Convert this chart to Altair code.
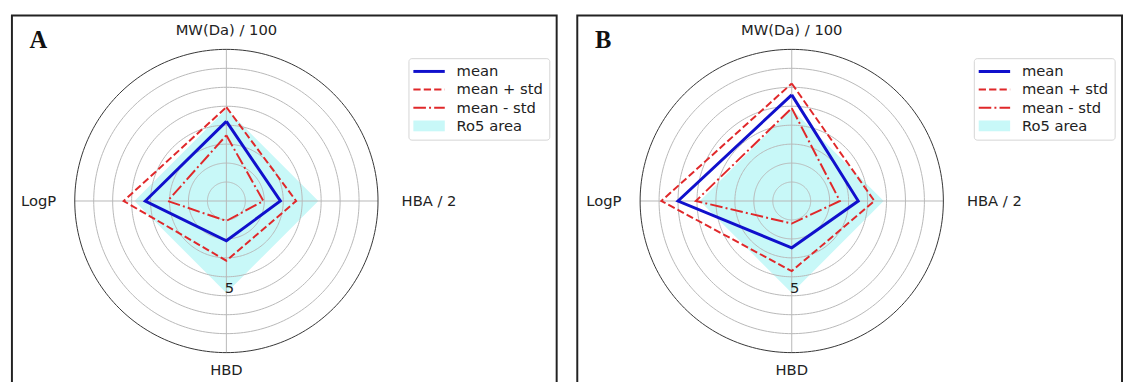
import numpy as np
import pandas as pd
import altair as alt

# ---------------- data ----------------
AXES = ["MW(Da) / 100", "HBA / 2", "HBD", "LogP"]     # clockwise from top
PANELS = ["A", "B"]
MEAN_A = [4.20, 2.85, 2.10, 4.28]
PLUS_A = [4.95, 3.68, 3.15, 5.42]
MINUS_A = [3.47, 1.95, 1.05, 3.10]
MEAN_B = [5.60, 3.51, 2.47, 6.00]
PLUS_B = [6.20, 4.36, 3.70, 6.88]
MINUS_B = [4.90, 2.54, 1.19, 5.06]
RO5 = [4.85, 4.85, 4.85, 4.85]
RINGS = [1, 2, 3, 4, 5, 6, 7]
R_MAX = 8
R_LABEL = 5
LEGEND = ["mean", "mean + std", "mean - std", "Ro5 area"]

# ---------------- layout / style ----------------
PX = 19.31          # pixels per radial unit
W, H = 555, 380     # each panel's view
CX, CY = 218.5, 189  # centre of the radar inside the view
XS = alt.Scale(domain=[-CX / PX, (W - CX) / PX], nice=False, zero=False)
YS = alt.Scale(domain=[-(H - CY) / PX, CY / PX], nice=False, zero=False)
FONT = "DejaVu Sans"
BLUE = "#1010cc"
RED = "#e0282a"
CYAN = "#c8f8f8"
GRID = "#b8b8b8"
TXT = "#222222"

ANG = [i * 2 * np.pi / len(AXES) for i in range(len(AXES))]


def X(f):
    return alt.X(f, type="quantitative", scale=XS, axis=None)


def Y(f):
    return alt.Y(f, type="quantitative", scale=YS, axis=None)


def polygon(vals):
    rows = []
    for i in range(len(vals) + 1):
        k = i % len(vals)
        rows.append({"x": vals[k] * np.sin(ANG[k]), "y": vals[k] * np.cos(ANG[k]), "o": i})
    return pd.DataFrame(rows)


def panel(letter, mean, plus, minus):
    layers = []
    # Ro5 area (star-shaped quadrilateral drawn as an area between two boundaries)
    top, right, bottom, left = RO5
    ro5 = pd.DataFrame({"x": [-left, 0, right], "y": [0, top, 0], "y2": [0, -bottom, 0]})
    layers.append(alt.Chart(ro5).mark_area(color=CYAN, opacity=1, orient="vertical",
                                           interpolate="linear")
                  .encode(x=X("x"), y=Y("y"), y2="y2"))
    # rings
    th = np.linspace(0, 2 * np.pi, 241)
    ring_rows = []
    for r in RINGS:
        for j, t in enumerate(th):
            ring_rows.append({"r": r, "x": r * np.sin(t), "y": r * np.cos(t), "o": j})
    layers.append(alt.Chart(pd.DataFrame(ring_rows)).mark_line(color=GRID, strokeWidth=1)
                  .encode(x=X("x"), y=Y("y"), detail="r:N", order="o:Q"))
    # spokes
    sp = pd.DataFrame({"x": [0.0] * len(AXES), "y": [0.0] * len(AXES),
                       "x2": [R_MAX * np.sin(a) for a in ANG],
                       "y2": [R_MAX * np.cos(a) for a in ANG]})
    layers.append(alt.Chart(sp).mark_rule(color=GRID, strokeWidth=1)
                  .encode(x=X("x"), y=Y("y"), x2="x2", y2="y2"))
    # outer circle
    outer = pd.DataFrame({"x": R_MAX * np.sin(th), "y": R_MAX * np.cos(th), "o": range(len(th))})
    layers.append(alt.Chart(outer).mark_line(color="#333333", strokeWidth=1)
                  .encode(x=X("x"), y=Y("y"), order="o:Q"))
    # series
    layers.append(alt.Chart(polygon(minus)).mark_line(color=RED, strokeWidth=2,
                                                      strokeDash=[12.8, 3.2, 2, 3.2],
                                                      strokeJoin="miter")
                  .encode(x=X("x"), y=Y("y"), order="o:Q"))
    layers.append(alt.Chart(polygon(plus)).mark_line(color=RED, strokeWidth=2,
                                                     strokeDash=[7.4, 3.2], strokeJoin="miter")
                  .encode(x=X("x"), y=Y("y"), order="o:Q"))
    layers.append(alt.Chart(polygon(mean)).mark_line(color=BLUE, strokeWidth=3, strokeJoin="miter")
                  .encode(x=X("x"), y=Y("y"), order="o:Q"))
    # radial tick label
    rl = pd.DataFrame({"t": [str(R_LABEL)], "x": [0.0], "y": [-float(R_LABEL)]})
    layers.append(alt.Chart(rl).mark_text(font=FONT, fontSize=15, color=TXT, dx=3, dy=-8,
                                          baseline="middle")
                  .encode(x=X("x"), y=Y("y"), text="t"))
    # axis labels
    specs = [dict(align="center", dy=-19.5), dict(align="left", dx=24),
             dict(align="center", dy=17.5), dict(align="right", dx=-19)]
    for lab, a, sp_ in zip(AXES, ANG, specs):
        d = pd.DataFrame({"t": [lab], "x": [R_MAX * np.sin(a)], "y": [R_MAX * np.cos(a)]})
        layers.append(alt.Chart(d).mark_text(font=FONT, fontSize=15, color=TXT,
                                             baseline="middle", **sp_)
                      .encode(x=X("x"), y=Y("y"), text="t"))
    # panel letter
    layers.append(alt.Chart(pd.DataFrame({"t": [letter]})).mark_text(
        font="Liberation Serif", fontWeight="bold", fontSize=25, color="#111111",
        align="left", baseline="alphabetic")
        .encode(x=alt.value(18), y=alt.value(33), text="t"))
    # legend
    one = pd.DataFrame({"k": [0]})
    layers.append(alt.Chart(one).mark_rect(fill="white", stroke="#d4d4d4", strokeWidth=1,
                                           cornerRadius=3)
                  .encode(x=alt.value(404.5), x2=alt.value(548), y=alt.value(44),
                          y2=alt.value(127)))
    row_y = [57, 75.5, 94, 112.5]
    styles = [dict(color=BLUE, strokeWidth=3),
              dict(color=RED, strokeWidth=2, strokeDash=[7.4, 3.2]),
              dict(color=RED, strokeWidth=2, strokeDash=[12.8, 3.2, 2, 3.2])]
    for yy, st in zip(row_y[:3], styles):
        layers.append(alt.Chart(one).mark_rule(**st)
                      .encode(x=alt.value(409), x2=alt.value(441), y=alt.value(yy)))
    layers.append(alt.Chart(one).mark_rect(fill=CYAN)
                  .encode(x=alt.value(409), x2=alt.value(441), y=alt.value(row_y[3] - 5.5),
                          y2=alt.value(row_y[3] + 5.5)))
    for yy, lab in zip(row_y, LEGEND):
        layers.append(alt.Chart(pd.DataFrame({"t": [lab]})).mark_text(
            font=FONT, fontSize=15, color=TXT, align="left", baseline="middle")
            .encode(x=alt.value(453), y=alt.value(yy), text="t"))
    return alt.layer(*layers).properties(width=W, height=H)


chart = alt.hconcat(
    panel(PANELS[0], MEAN_A, PLUS_A, MINUS_A),
    panel(PANELS[1], MEAN_B, PLUS_B, MINUS_B),
    spacing=19,
).properties(
    padding={"left": 3, "top": 3, "right": 0, "bottom": 0}
).configure_view(stroke="#222222", strokeWidth=2)

chart.save("out.html", embed_options={"renderer": "svg", "actions": False})
